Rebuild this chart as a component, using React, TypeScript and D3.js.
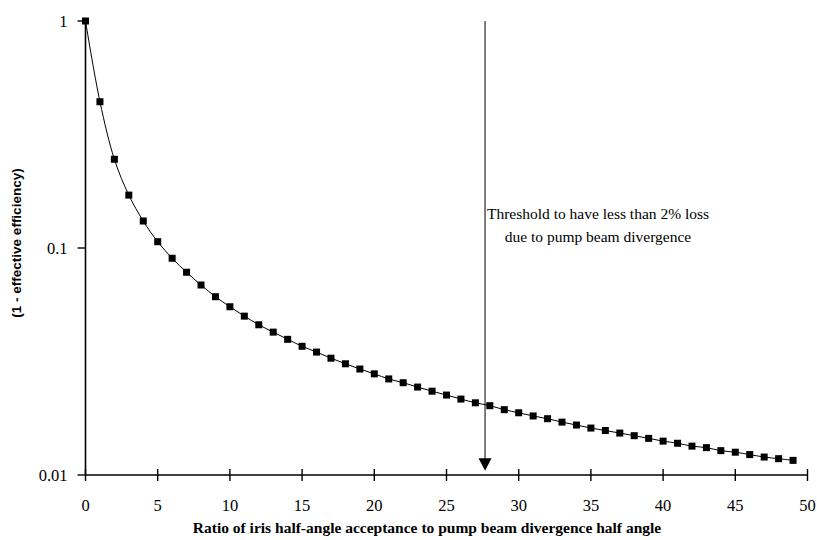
import React from 'react'
import * as d3 from 'd3'

// ratio of iris half-angle acceptance to pump divergence half angle
const ratios = [
  0, 1, 2, 3, 4, 5, 6, 7, 8, 9,
  10, 11, 12, 13, 14, 15, 16, 17, 18, 19,
  20, 21, 22, 23, 24, 25, 26, 27, 28, 29,
  30, 31, 32, 33, 34, 35, 36, 37, 38, 39,
  40, 41, 42, 43, 44, 45, 46, 47, 48, 49
]
// 1 - effective efficiency
const loss = [
  1.0, 0.441, 0.246, 0.171, 0.1315, 0.1066, 0.0901, 0.0782, 0.0687, 0.0610,
  0.0551, 0.0501, 0.0459, 0.0426, 0.0396, 0.0369, 0.0348, 0.0327, 0.0309, 0.0293,
  0.0279, 0.0265, 0.0255, 0.0244, 0.0234, 0.0225, 0.0216, 0.0208, 0.0202, 0.0194,
  0.0188, 0.0182, 0.0177, 0.0171, 0.0166, 0.0161, 0.0157, 0.0153, 0.0149, 0.0145,
  0.0141, 0.0138, 0.0134, 0.0132, 0.0128, 0.0126, 0.0123, 0.0120, 0.0118, 0.0116
]
const xTicks = [0, 5, 10, 15, 20, 25, 30, 35, 40, 45, 50]
const yTicks = [1, 0.1, 0.01]
const yTickLabels = ['1', '0.1', '0.01']
const threshold = 27.67
const arrowTip = 0.01045
const noteLines = ['Threshold to have less than 2% loss', 'due to pump beam divergence']

const serif = { fontFamily: "'Liberation Serif', 'DejaVu Serif', serif" }
const sans = { fontFamily: "'Liberation Sans', Arial, sans-serif" }

export default function App () {
  const width = 817
  const height = 540
  const xScale = d3.scaleLinear().domain([0, 50]).range([85.5, 807.5])
  const yScale = d3.scaleLog().domain([0.01, 1]).range([475, 21])
  const line = d3.line<number>()
    .x((d, i) => xScale(ratios[i]))
    .y(d => yScale(d))
    .curve(d3.curveCatmullRom)
  const ax = xScale(threshold)
  const tipY = yScale(arrowTip)
  return <svg width={width} height={height} style={{ position: 'absolute', left: 0, top: 0, background: '#fff' }}>
    {/* axes */}
    <line x1={xScale(0)} y1={yScale(1)} x2={xScale(0)} y2={yScale(0.01)} stroke='#000' strokeWidth={1.6} />
    <line x1={xScale(0)} y1={yScale(0.01)} x2={xScale(50)} y2={yScale(0.01)} stroke='#000' strokeWidth={1.6} />
    {
      yTicks.map((v, i) => {
        return <g key={i} transform={`translate(${xScale(0)},${yScale(v)})`}>
          <line x1='-8' y1='0' x2='0' y2='0' stroke='#000' strokeWidth={1.4} />
          <text x='-18' dy='5.5' textAnchor='end' style={serif} fontSize={16.5}>{yTickLabels[i]}</text>
        </g>
      })
    }
    {
      xTicks.map((v, i) => {
        return <g key={i} transform={`translate(${xScale(v)},${yScale(0.01)})`}>
          <line x1='0' y1='-6' x2='0' y2='6' stroke='#000' strokeWidth={1.4} />
          <text y='36' textAnchor='middle' style={serif} fontSize={16.5}>{v}</text>
        </g>
      })
    }
    {/* series */}
    <path d={line(loss) || ''} fill='none' stroke='#000' strokeWidth={1} />
    {
      loss.map((v, i) => {
        return <rect key={i} x={xScale(ratios[i]) - 3.5} y={yScale(v) - 3.5} width={7} height={7} fill='#000' />
      })
    }
    {/* threshold arrow */}
    <line x1={ax} y1={yScale(1)} x2={ax} y2={tipY - 11} stroke='#000' strokeWidth={1} />
    <path d={`M${ax - 6.5},${tipY - 12.5}L${ax + 6.5},${tipY - 12.5}L${ax},${tipY}Z`} fill='#000' />
    {
      noteLines.map((t, i) => {
        return <text key={i} x={598} y={219 + i * 23} textAnchor='middle' style={serif} fontSize={15.5}>{t}</text>
      })
    }
    {/* axis titles */}
    <text x={427} y={533} textAnchor='middle' style={serif} fontWeight='bold' fontSize={15.5}>
      Ratio of iris half-angle acceptance to pump beam divergence half angle
    </text>
    <text transform={`translate(21,243) rotate(-90)`} textAnchor='middle' style={sans} fontWeight='bold' fontSize={13.5}>
      (1 - effective efficiency)
    </text>
  </svg>
}
